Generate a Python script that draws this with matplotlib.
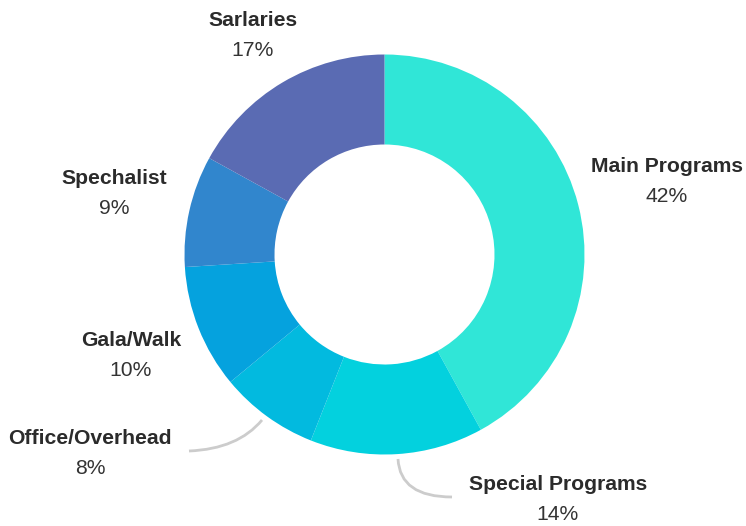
import matplotlib
matplotlib.use("Agg")
import matplotlib.pyplot as plt
from matplotlib.path import Path
from matplotlib.patches import PathPatch

categories = ["Main Programs", "Special Programs", "Office/Overhead", "Gala/Walk", "Spechalist", "Sarlaries"]
values = [42, 14, 8, 10, 9, 17]
colors = ["#30E6D7", "#03D1DE", "#02BADF", "#05A2DE", "#3186CD", "#5A6BB3"]

# label anchor positions (pixel coords, top-left origin) for name line
label_pos = [(667, 166), (558, 485), (90, 438), (131, 340), (114, 178), (253, 20)]

W, H = 746, 526
fig = plt.figure(figsize=(W / 100, H / 100), dpi=100)
ax = fig.add_axes([0, 0, 1, 1])

cx, cy, R = 384.5, H - 254.5, 200
ax.pie(values, colors=colors, startangle=90, counterclock=False,
       radius=R, center=(cx, cy), frame=True,
       wedgeprops=dict(width=R * 0.45, edgecolor="none", linewidth=0))
ax.set_xlim(0, W)
ax.set_ylim(0, H)
ax.set_aspect("equal")
ax.axis("off")

font = "Liberation Sans"
for name, v, (x, y) in zip(categories, values, label_pos):
    ax.text(x, H - y, name, ha="center", va="center", fontsize=15.2,
            fontweight="bold", color="#2b2b2b", family=font)
    ax.text(x, H - (y + 30), f"{v}%", ha="center", va="center", fontsize=15.2,
            color="#333333", family=font)

# leader lines
def curve(p0, c, p1):
    verts = [(p0[0], H - p0[1]), (c[0], H - c[1]), (p1[0], H - p1[1])]
    path = Path(verts, [Path.MOVETO, Path.CURVE3, Path.CURVE3])
    ax.add_patch(PathPatch(path, facecolor="none", edgecolor="#cccccc", lw=2))

curve((262, 420), (238, 449), (189, 451))
curve((398, 459), (400, 497), (452, 497))

fig.savefig("out.png", dpi=100)
